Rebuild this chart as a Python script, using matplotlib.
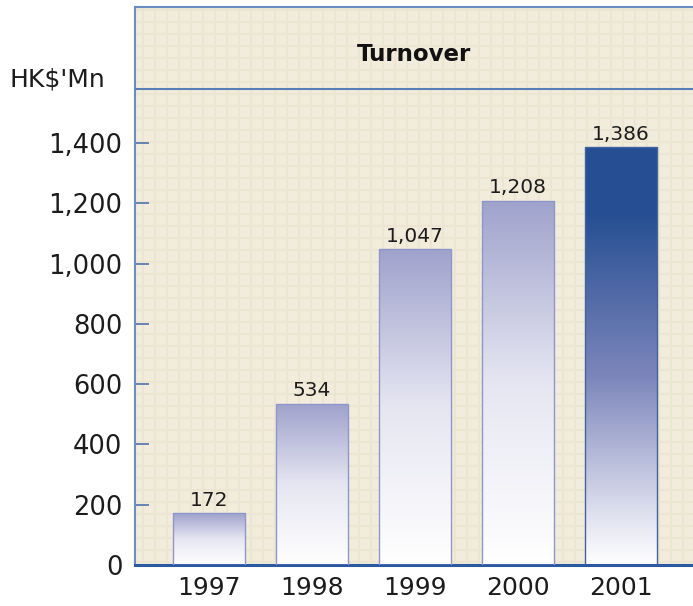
import numpy as np
import matplotlib
matplotlib.use("Agg")
import matplotlib.pyplot as plt
from matplotlib.colors import LinearSegmentedColormap

# ---- data ----
years = ["1997", "1998", "1999", "2000", "2001"]
turnover = [172, 534, 1047, 1208, 1386]
value_labels = ["172", "534", "1,047", "1,208", "1,386"]
yticks = [0, 200, 400, 600, 800, 1000, 1200, 1400]
ytick_labels = ["0", "200", "400", "600", "800", "1,000", "1,200", "1,400"]
title = "Turnover"
unit = "HK$'Mn"

W, H, DPI = 693, 606, 100
fig = plt.figure(figsize=(W / DPI, H / DPI), dpi=DPI)
fig.patch.set_facecolor("white")

font = ["DejaVu Sans"]
fw = "normal"
tc = "#1c1c1c"

left, right, bottom, top = 135 / W, 1.0, (H - 565) / H, (H - 7) / H
pos = [left, bottom, right - left, top - bottom]

# background with grid
bg = fig.add_axes(pos, zorder=0)
bg.set_facecolor("#f2ecdc")
bg.set_xlim(0, (right - left) * W)
bg.set_ylim(0, (top - bottom) * H)
for xx in np.arange(8, (right - left) * W, 12):
    bg.axvline(xx, color="#ece5d2", lw=1.5, zorder=0)
for yy in np.arange(3, (top - bottom) * H, 12):
    bg.axhline(yy, color="#ece5d2", lw=1.5, zorder=0)
bg.set_xticks([]); bg.set_yticks([])
for s in bg.spines.values():
    s.set_visible(False)

ax = fig.add_axes(pos, zorder=1)
ax.patch.set_alpha(0)
x = np.arange(len(years))
ymax = 1851

bars = ax.bar(x, turnover, width=0.70, facecolor="none",
              edgecolor="#8e97c9", linewidth=1.0, zorder=3)

light = LinearSegmentedColormap.from_list("l", ["#ffffff", "#e6e6f2", "#9fa2cc"])
dark = LinearSegmentedColormap.from_list(
    "d", [(0, "#ffffff"), (0.12, "#dfe1ef"), (0.45, "#7d86bb"),
          (0.84, "#264f93"), (1.0, "#264f93")])
grad = np.linspace(0, 1, 256).reshape(-1, 1)
for i, b in enumerate(bars):
    x0, w, h = b.get_x(), b.get_width(), b.get_height()
    cmap = dark if i == len(bars) - 1 else light
    im = ax.imshow(grad, cmap=cmap, origin="lower", aspect="auto",
                   extent=[x0, x0 + w, 0, h], zorder=2, interpolation="bicubic")
    im.set_clip_path(b)
    if i == len(bars) - 1:
        b.set_edgecolor("#3f63a3")
    ax.text(x0 + w / 2, h + 12, value_labels[i], ha="center", va="bottom",
            fontsize=14.5, family=font, fontweight=fw, color=tc, zorder=4)

ax.set_xlim(-0.718, 4.70)
ax.set_ylim(0, ymax)

# title band
ax.axhline(1579, color="#5b7db6", lw=1.5, zorder=4)
ax.text(0.5, (1579 + (ymax - 1579) * 0.42) / ymax, title,
        transform=ax.transAxes, ha="center", va="center", fontsize=16.5,
        fontweight="bold", family=font, color="#111111")

ax.set_yticks(yticks)
ax.set_yticklabels(ytick_labels, fontsize=18.5, family=font, fontweight=fw,
                   color=tc)
ax.tick_params(axis="y", direction="in", length=10, width=1.2,
               color="#4f72ae", pad=9)
ax.set_xticks(x)
ax.set_xticklabels(years, fontsize=18, family=font, fontweight=fw, color=tc)
ax.tick_params(axis="x", length=0, pad=8)

for s in ["top", "left"]:
    ax.spines[s].set_color("#6a8cc2")
    ax.spines[s].set_linewidth(1.5)
ax.spines["right"].set_visible(False)
ax.spines["bottom"].set_color("#2c58a0")
ax.spines["bottom"].set_linewidth(2.2)

fig.text(10 / W, 1 - 80 / H, unit, fontsize=18, family=font, fontweight=fw,
         color=tc, ha="left", va="center")

fig.savefig("out.png", dpi=DPI)
